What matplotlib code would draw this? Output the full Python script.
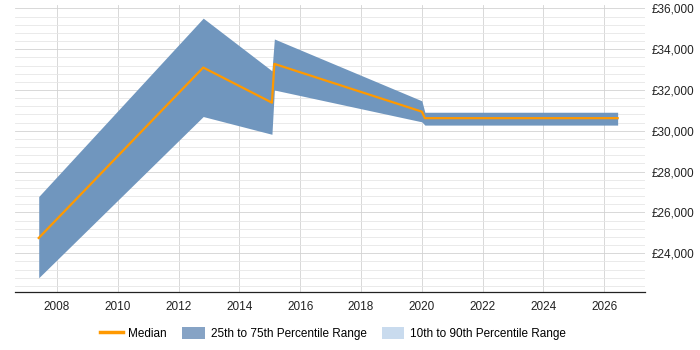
import matplotlib
matplotlib.use("Agg")
import matplotlib.pyplot as plt
from matplotlib.lines import Line2D
from matplotlib.patches import Patch
from matplotlib.ticker import FuncFormatter, MultipleLocator

plt.rcParams["font.family"] = ["Liberation Sans", "DejaVu Sans"]

years = [2007.40, 2012.81, 2015.07, 2015.15, 2020.00, 2020.10, 2026.44]
p25 = [22800, 30700, 29830, 32000, 30440, 30280, 30280]
p75 = [26780, 35520, 32940, 34500, 31470, 30910, 30910]
median = [24750, 33100, 31380, 33280, 30940, 30620, 30620]

band_color = "#7096be"
median_color = "#ff9900"

fig = plt.figure(figsize=(7, 3.5), dpi=100)
ax = fig.add_axes([0.021, 0.165, 0.9, 0.821])

ax.fill_between(years, p25, p75, color=band_color, linewidth=0, zorder=2)
ax.plot(years, median, color=median_color, linewidth=1.6, zorder=3)

ax.set_xlim(2006.61, 2027.33)
ax.set_ylim(22090, 36170)
ax.xaxis.set_major_locator(MultipleLocator(2))
ax.yaxis.set_major_locator(MultipleLocator(2000))
ax.yaxis.set_minor_locator(MultipleLocator(400))
ax.yaxis.set_major_formatter(FuncFormatter(lambda v, p: f"£{v:,.0f}"))
ax.yaxis.tick_right()

ax.grid(which="major", axis="both", color="#d2d2d2", linewidth=0.6, zorder=0)
ax.grid(which="minor", axis="y", color="#e6e6e6", linewidth=0.6, zorder=0)
ax.set_axisbelow(True)

for side in ("top", "right", "left"):
    ax.spines[side].set_visible(False)
ax.spines["bottom"].set_color("#222222")
ax.spines["bottom"].set_linewidth(0.9)

ax.tick_params(axis="both", which="both", length=0, labelsize=8.5, colors="#222222")
ax.tick_params(axis="y", pad=5)
ax.tick_params(axis="x", pad=6)

handles = [
    Line2D([0], [0], color=median_color, linewidth=2.5),
    Patch(facecolor="#86a3c5", edgecolor="none"),
    Patch(facecolor="#c9dbee", edgecolor="none"),
]
labels = ["Median", "25th to 75th Percentile Range", "10th to 90th Percentile Range"]
fig.legend(handles, labels, loc="center", bbox_to_anchor=(0.476, 0.047), ncol=3,
           frameon=False, fontsize=8.5, handlelength=1.9, handleheight=1.1,
           columnspacing=1.3, handletextpad=0.5)

fig.savefig("out.png", dpi=100)
